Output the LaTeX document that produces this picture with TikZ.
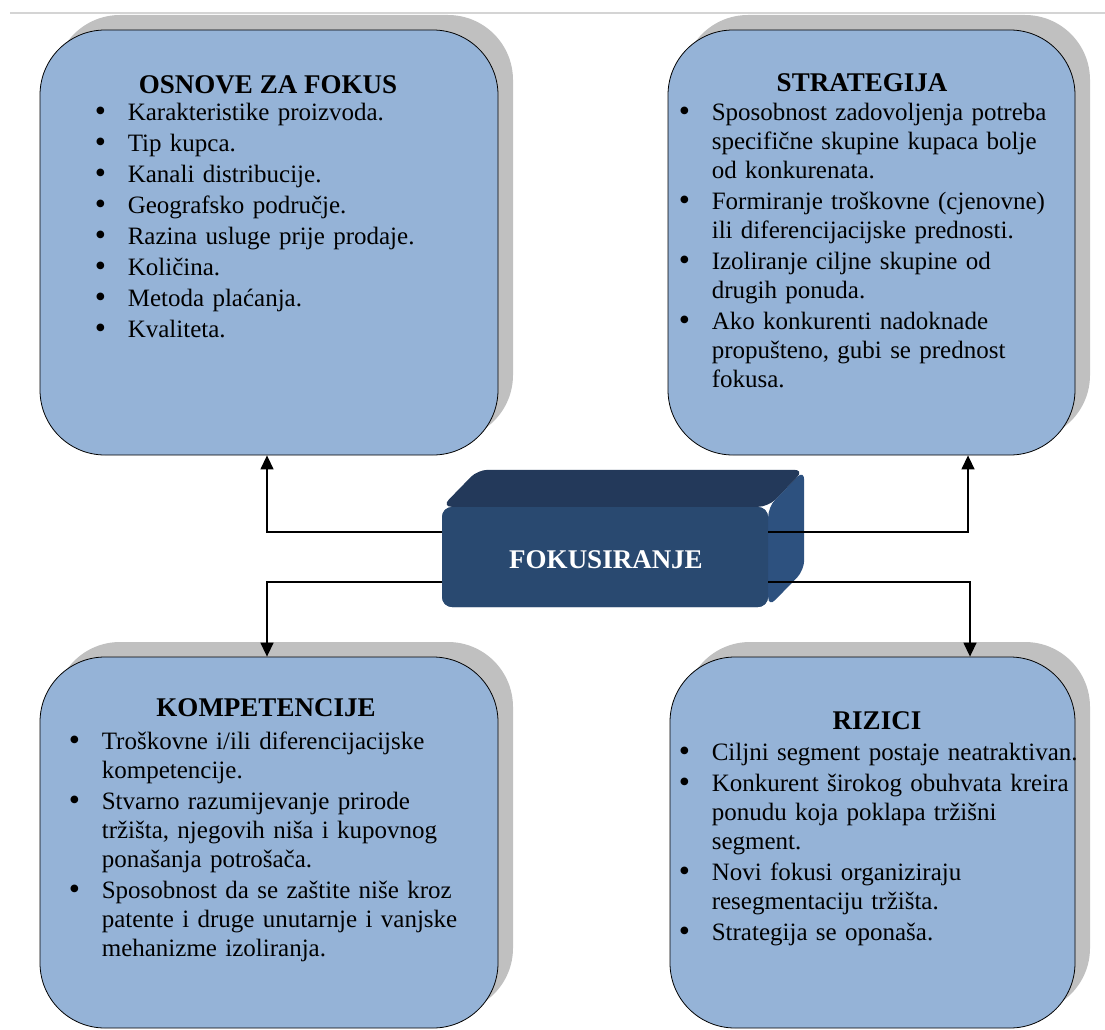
\documentclass[tikz,border=0pt]{standalone}
\usepackage{fontspec}
\setmainfont{Liberation Serif}
\usepackage{enumitem}
\usepackage{tikz}
\usetikzlibrary{arrows.meta, shadows}
\definecolor{panelblue}{RGB}{149,179,215}
\definecolor{panelshadow}{RGB}{192,192,192}
\definecolor{fokfront}{RGB}{41,73,112}
\definecolor{foktop}{RGB}{35,57,90}
\definecolor{fokside}{RGB}{45,81,127}
\definecolor{pageline}{RGB}{212,212,212}
\setlist[itemize]{label=\raisebox{-1pt}{\fontsize{32}{32}\selectfont\textbullet}, leftmargin=33pt,
  labelwidth=33pt, labelsep=0pt, align=left, itemsep=2pt, topsep=0pt, parsep=0pt, partopsep=0pt}
\tikzset{
  panel/.style={rectangle, draw=black, fill=panelblue, rounded corners=65pt,
    line width=0.8pt, inner sep=0pt,
    drop shadow={shadow xshift=15pt, shadow yshift=15pt, fill=panelshadow, opacity=1}},
  paneltitle/.style={anchor=base, inner sep=0pt, font=\fontsize{27}{32}\selectfont\bfseries},
  panellist/.style={anchor=north west, inner sep=0pt, text width=420pt,
    font=\fontsize{25}{29}\selectfont},
  frontface/.style={rectangle, fill=fokfront, rounded corners=10pt, inner sep=0pt,
    minimum width=326pt, minimum height=100pt, text=white,
    font=\fontsize{27}{32}\selectfont\bfseries},
  arrow/.style={-{Triangle[length=14pt,width=13pt]}, line width=1.4pt, color=black},
  line/.style={line width=1.4pt, color=black}
}

\begin{document}
\begin{tikzpicture}[x=1pt, y=-1pt]
  \clip (0,0) rectangle (1105,1030);
  \draw[pageline, line width=1.5pt] (10,13) -- (1105,13);

  % four panels
  \node[panel, minimum width=458pt, minimum height=425pt] (osn) at (269,242.5) {};
  \node[panel, minimum width=407pt, minimum height=425pt] (str) at (871.5,242.5) {};
  \node[panel, minimum width=458pt, minimum height=371pt] (kom) at (269,842.5) {};
  \node[panel, minimum width=405pt, minimum height=371pt] (riz) at (872.5,842.5) {};

  \node[paneltitle] (osnt) at ([xshift=-1pt, yshift=-64pt]osn.north) {OSNOVE ZA FOKUS};
  \node[panellist] (osnl) at ([xshift=55pt, yshift=-62pt]osn.north west) {%
    \begin{itemize}
      \item Karakteristike proizvoda.
      \item Tip kupca.
      \item Kanali distribucije.
      \item Geografsko područje.
      \item Razina usluge prije prodaje.
      \item Količina.
      \item Metoda plaćanja.
      \item Kvaliteta.
    \end{itemize}};

  \node[paneltitle] (strt) at ([xshift=-9.5pt, yshift=-62pt]str.north) {STRATEGIJA};
  \node[panellist] (strl) at ([xshift=11pt, yshift=-62pt]str.north west) {%
    \begin{itemize}
      \item Sposobnost zadovoljenja potreba\\ specifične skupine kupaca bolje\\ od konkurenata.
      \item Formiranje troškovne (cjenovne)\\ ili diferencijacijske prednosti.
      \item Izoliranje ciljne skupine od\\ drugih ponuda.
      \item Ako konkurenti nadoknade\\ propušteno, gubi se prednost\\ fokusa.
    \end{itemize}};

  \node[paneltitle] (komt) at ([xshift=-3pt, yshift=-60pt]kom.north) {KOMPETENCIJE};
  \node[panellist] (koml) at ([xshift=29pt, yshift=-64pt]kom.north west) {%
    \begin{itemize}
      \item Troškovne i/ili diferencijacijske\\ kompetencije.
      \item Stvarno razumijevanje prirode\\ tržišta, njegovih niša i kupovnog\\ ponašanja potrošača.
      \item Sposobnost da se zaštite niše kroz\\ patente i druge unutarnje i vanjske\\ mehanizme izoliranja.
    \end{itemize}};

  \node[paneltitle] (rizt) at ([xshift=4.5pt, yshift=-73pt]riz.north) {RIZICI};
  \node[panellist] (rizl) at ([xshift=9pt, yshift=-75pt]riz.north west) {%
    \begin{itemize}
      \item Ciljni segment postaje neatraktivan.
      \item Konkurent širokog obuhvata kreira\\ ponudu koja poklapa tržišni\\ segment.
      \item Novi fokusi organiziraju\\ resegmentaciju tržišta.
      \item Strategija se oponaša.
    \end{itemize}};

  % centre block
  \node[frontface] (fok) at (605,557) {};
  \fill[fokside, rounded corners=10pt] (fok.north east) -- ([xshift=36pt, yshift=37pt]fok.north east)
    -- ([xshift=36pt, yshift=37pt]fok.south east) -- (fok.south east) -- cycle;
  \fill[foktop, rounded corners=10pt] (fok.north west) -- ([xshift=36pt, yshift=37pt]fok.north west)
    -- ([xshift=36pt, yshift=37pt]fok.north east) -- (fok.north east) -- cycle;
  \node[frontface] at (fok.center) {};
  \node[text=white, inner sep=0pt, anchor=base, font=\fontsize{27}{32}\selectfont\bfseries] (fokt)
    at ([xshift=1pt, yshift=-11pt]fok.center) {FOKUSIRANJE};

  \draw[arrow] ([yshift=25pt]fok.west) -| ([xshift=-2pt]osn.south);
  \draw[arrow] ([yshift=-25pt]fok.west) -| ([xshift=-2pt]kom.north);
  \draw[arrow] ([yshift=25pt]fok.east) -| ([xshift=96.5pt]str.south);
  \draw[arrow] ([yshift=-25pt]fok.east) -| ([xshift=97.5pt]riz.north);
\end{tikzpicture}
\end{document}
